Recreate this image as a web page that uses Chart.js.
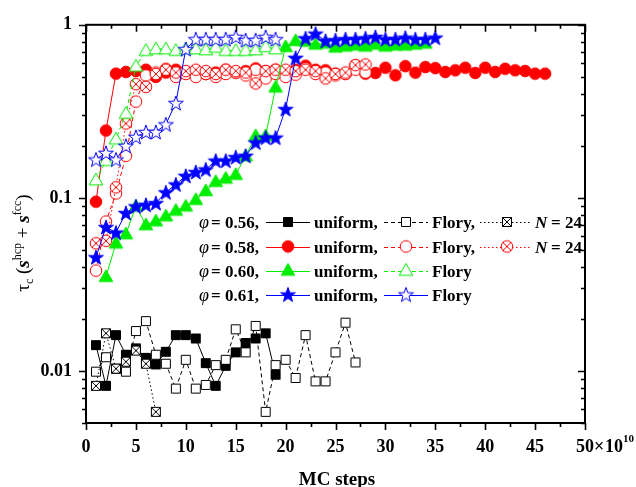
<!DOCTYPE html>
<html>
<head>
<meta charset="utf-8">
<script src="https://cdn.jsdelivr.net/npm/chart.js@4.4.1/dist/chart.umd.min.js"></script>
<style>
html,body{margin:0;padding:0;background:#fff;}
#wrap{width:636px;height:487px;position:relative;}
</style>
</head>
<body>
<div id="wrap"><canvas id="c" width="636" height="487"></canvas></div>
<script>
// ---------- data ----------
const steps = [1,2,3,4,5,6,7,8,9,10,11,12,13,14,15,16,17,18,19,20,21,22,23,24,25,26,27,28,29,30,31,32,33,34,35,36,37,38,39,40,41,42,43,44,45,46];

// phi = 0.56
const u56 = [0.0141,0.0082,0.0161,0.0124,0.0135,0.0119,0.0109,0.0129,0.0161,0.0161,0.0154,0.0111,0.0082,0.0107,0.0128,0.0145,0.0154,0.0165,0.0095];
const f56 = [0.0099,0.0120,0.0103,0.0099,0.0170,0.0194,0.0124,0.0110,0.0079,0.0116,0.0079,0.0083,0.0108,0.0116,0.0174,0.0128,0.0182,0.0058,0.0108,0.0116,0.0091,0.0161,0.0087,0.0087,0.0128,0.0190,0.0112];
const n56 = [0.0082,0.0165,0.0103,0.0113,0.0131,0.0110,0.0058];

// phi = 0.58
const u58 = [0.095,0.245,0.522,0.534,0.54,0.55,0.50,0.53,0.55,0.53,0.54,0.52,0.53,0.55,0.53,0.54,0.56,0.54,0.55,0.53,0.55,0.58,0.55,0.546,0.522,0.522,0.582,0.522,0.527,0.565,0.511,0.577,0.529,0.570,0.562,0.534,0.546,0.565,0.527,0.565,0.534,0.557,0.546,0.541,0.522,0.522];
const f58 = [0.038,0.073,0.106,0.175,0.36,0.51,0.53,0.557,0.50,0.52,0.50,0.52,0.50,0.52,0.53,0.51,0.55,0.49,0.52,0.50,0.515,0.56,0.52,0.53,0.51,0.52,0.55,0.53];
const n58 = [0.0546,0.0565,0.115,0.269,0.454,0.438,0.52,0.55,0.53,0.54,0.55,0.54,0.52,0.55,0.54,0.53,0.458,0.54,0.55,0.55,0.54,0.55,0.54,0.49,0.52,0.53,0.585,0.59];

// phi = 0.60 (uniform starts at step 2)
const u60Steps = steps.slice(1, 34);
const u60 = [0.035,0.0546,0.0617,0.0893,0.0696,0.0733,0.0783,0.0844,0.0893,0.0975,0.1096,0.1238,0.1294,0.136,0.174,0.228,0.228,0.435,0.746,0.808,0.80,0.77,0.78,0.74,0.75,0.76,0.75,0.77,0.75,0.76,0.76,0.77,0.78];
const f60 = [0.1265,0.164,0.218,0.307,0.575,0.709,0.724,0.724,0.709,0.724,0.724,0.715,0.74,0.709,0.709,0.709,0.715,0.746,0.724];

// phi = 0.61
const u61 = [0.0454,0.0678,0.063,0.0818,0.0893,0.0912,0.0933,0.1077,0.1196,0.134,0.141,0.146,0.164,0.164,0.172,0.175,0.209,0.223,0.223,0.326,0.644,0.836,0.889,0.808,0.815,0.826,0.826,0.836,0.851,0.826,0.826,0.843,0.826,0.826,0.843];
const f61 = [0.1667,0.182,0.1667,0.2,0.225,0.24,0.24,0.266,0.353,0.724,0.826,0.826,0.826,0.826,0.851,0.815,0.815,0.851,0.826];

const xTickVals = [0,5,10,15,20,25,30,35,40,45,50];
const xTickLabels = ['0','5','10','15','20','25','30','35','40','45','50'];
const yTickVals = [0.01,0.1,1];
const yTickLabels = ['0.01','0.1','1'];

// ---------- styling helpers ----------
const SERIF = '"Liberation Serif","Times New Roman",serif';
const BLACK='#000000', RED='#ff0000', GREEN='#00ee00', BLUE='#0000ff';

function marker(shape, color, filled, crossed){
  const S=20, c=document.createElement('canvas'); c.width=S; c.height=S;
  const g=c.getContext('2d'); const m=S/2;
  g.lineWidth=1; g.strokeStyle=color; g.fillStyle=filled?color:'#ffffff';
  g.beginPath();
  if(shape==='square'){ g.rect(m-4.5,m-4.5,9,9); }
  else if(shape==='circle'){ g.arc(m,m,5.8,0,Math.PI*2); }
  else if(shape==='triangle'){ g.moveTo(m,m-7); g.lineTo(m+6.8,m+4.8); g.lineTo(m-6.8,m+4.8); g.closePath(); }
  else if(shape==='star'){
    const R=7.8, r=3.1;
    for(let i=0;i<10;i++){ const a=-Math.PI/2+i*Math.PI/5, rr=(i%2===0)?R:r;
      const px=m+rr*Math.cos(a), py=m+rr*Math.sin(a)+0.7; if(i===0) g.moveTo(px,py); else g.lineTo(px,py);} g.closePath();
  }
  g.fill(); g.stroke();
  if(crossed){
    const d = shape==='square'?4.5:4;
    g.beginPath(); g.moveTo(m-d,m-d); g.lineTo(m+d,m+d); g.moveTo(m+d,m-d); g.lineTo(m-d,m+d); g.stroke();
  }
  return c;
}
const M = {
  sqF: marker('square',BLACK,true), sqO: marker('square',BLACK,false), sqX: marker('square',BLACK,false,true),
  ciF: marker('circle',RED,true), ciO: marker('circle',RED,false), ciX: marker('circle',RED,false,true),
  trF: marker('triangle',GREEN,true), trO: marker('triangle',GREEN,false),
  stF: marker('star',BLUE,true), stO: marker('star',BLUE,false)
};
const DASH=[4,3], DOT=[1.5,2.5];

function pts(xs, ys){ return ys.map((v,i)=>({x:xs[i], y:v})); }
function ds(label, xs, ys, color, dash, style){
  return {label, data:pts(xs,ys), borderColor:color, backgroundColor:color, borderWidth:1,
    borderDash:dash, pointStyle:style, pointRadius:5, pointHoverRadius:5, tension:0, fill:false};
}

const datasets = [
  ds('0.61 Flory', steps, f61, BLUE, [], M.stO),
  ds('0.61 uniform', steps, u61, BLUE, [], M.stF),
  ds('0.60 Flory', steps, f60, GREEN, DASH, M.trO),
  ds('0.60 uniform', u60Steps, u60, GREEN, [], M.trF),
  ds('0.58 N24', steps, n58, RED, DOT, M.ciX),
  ds('0.58 Flory', steps, f58, RED, DASH, M.ciO),
  ds('0.58 uniform', steps, u58, RED, [], M.ciF),
  ds('0.56 N24', steps, n56, BLACK, DOT, M.sqX),
  ds('0.56 Flory', steps, f56, BLACK, DASH, M.sqO),
  ds('0.56 uniform', steps, u56, BLACK, [], M.sqF)
];

// ---------- decoration plugin ----------
const deco = {
  id:'deco',
  afterDraw(chart){
    const ctx=chart.ctx, a=chart.chartArea, xs=chart.scales.x, ys=chart.scales.y;
    ctx.save();
    ctx.strokeStyle='#000'; ctx.fillStyle='#000';
    ctx.lineWidth=2; ctx.setLineDash([]);
    ctx.strokeRect(a.left, a.top, a.right-a.left, a.bottom-a.top);
    ctx.lineWidth=1.6;
    for(let i=0;i<=20;i++){
      const v=i*2.5, px=Math.round(xs.getPixelForValue(v))+0.5, len=(i%2===0)?7:4;
      ctx.beginPath();
      ctx.moveTo(px,a.bottom); ctx.lineTo(px,a.bottom+len);
      ctx.moveTo(px,a.top); ctx.lineTo(px,a.top+len);
      ctx.stroke();
    }
    for(let e=-3;e<=0;e++){
      for(let k=1;k<=9;k++){
        const v=k*Math.pow(10,e);
        if(v<ys.min*0.999 || v>ys.max*1.001) continue;
        const py=Math.round(ys.getPixelForValue(v))+0.5, len=(k===1)?7:4;
        ctx.beginPath();
        ctx.moveTo(a.left-len,py); ctx.lineTo(a.left,py);
        ctx.moveTo(a.right-len,py); ctx.lineTo(a.right,py);
        ctx.stroke();
      }
    }
    // x multiplier
    ctx.textBaseline='alphabetic'; ctx.textAlign='left';
    ctx.font='bold 18px '+SERIF;
    ctx.fillText('\u00d7', a.right+9, 452);
    ctx.fillText('10', a.right+20, 452);
    ctx.font='bold 11px '+SERIF;
    ctx.fillText('10', a.right+38, 442);
    // x title
    ctx.font='bold 19px '+SERIF; ctx.textAlign='center';
    ctx.fillText('MC steps', 337, 485);
    // y title
    ctx.save();
    ctx.translate(29, 243); ctx.rotate(-Math.PI/2);
    const segs=[
      {t:'\u03c4', f:'19px '+SERIF, dy:0},
      {t:'c', f:'12px '+SERIF, dy:4},
      {t:' (', f:'19px '+SERIF, dy:0},
      {t:'s', f:'bold italic 19px '+SERIF, dy:0},
      {t:'hcp', f:'12px '+SERIF, dy:-8},
      {t:' + ', f:'19px '+SERIF, dy:0},
      {t:'s', f:'bold italic 19px '+SERIF, dy:0},
      {t:'fcc', f:'12px '+SERIF, dy:-8},
      {t:')', f:'19px '+SERIF, dy:0}
    ];
    let w=0; segs.forEach(s=>{ctx.font=s.f; s.w=ctx.measureText(s.t).width; w+=s.w;});
    let x=-w/2; ctx.textAlign='left';
    segs.forEach(s=>{ctx.font=s.f; ctx.fillText(s.t, x, s.dy); x+=s.w;});
    ctx.restore();
    // legend
    const rows=[
      {y:222, phi:'0.56', col:BLACK, u:M.sqF, f:M.sqO, fdash:DASH, n:M.sqX},
      {y:246.5, phi:'0.58', col:RED, u:M.ciF, f:M.ciO, fdash:DASH, n:M.ciX},
      {y:270.5, phi:'0.60', col:GREEN, u:M.trF, f:M.trO, fdash:DASH, n:null},
      {y:294.5, phi:'0.61', col:BLUE, u:M.stF, f:M.stO, fdash:[], n:null}
    ];
    rows.forEach(r=>{
      const base=r.y+6;
      ctx.fillStyle='#000'; ctx.textAlign='left';
      ctx.font='italic 18px '+SERIF; ctx.fillText('\u03c6', 199, base);
      ctx.font='bold 17px '+SERIF; ctx.fillText('= '+r.phi+',', 211, base);
      ctx.fillText('uniform,', 314, base);
      ctx.fillText(r.n ? 'Flory,' : 'Flory', 432, base);
      ctx.strokeStyle=r.col; ctx.lineWidth=1;
      const ly=Math.round(r.y)+0.5;
      ctx.setLineDash([]); ctx.beginPath(); ctx.moveTo(266,ly); ctx.lineTo(310,ly); ctx.stroke();
      ctx.setLineDash(r.fdash); ctx.beginPath(); ctx.moveTo(384,ly); ctx.lineTo(428,ly); ctx.stroke();
      ctx.setLineDash([]);
      ctx.drawImage(r.u, 288-10, r.y-10);
      ctx.drawImage(r.f, 406-10, r.y-10);
      if(r.n){
        ctx.setLineDash(DOT); ctx.beginPath(); ctx.moveTo(480,ly); ctx.lineTo(531,ly); ctx.stroke();
        ctx.setLineDash([]);
        ctx.drawImage(r.n, 507-10, r.y-10);
        ctx.fillStyle='#000';
        ctx.font='italic bold 17px '+SERIF; ctx.fillText('N', 535, base);
        ctx.font='bold 17px '+SERIF; ctx.fillText('= 24', 551, base);
      }
    });
    ctx.restore();
  }
};

new Chart(document.getElementById('c'), {
  type:'line',
  data:{datasets},
  options:{
    responsive:false, animation:false, events:[],
    layout:{padding:{top:18, right:51, left:0, bottom:0}},
    plugins:{legend:{display:false}, tooltip:{enabled:false}},
    scales:{
      x:{type:'linear', min:0, max:50,
        grid:{display:false, drawTicks:false}, border:{display:false},
        afterBuildTicks:(s)=>{ s.ticks = xTickVals.map(v=>({value:v})); },
        afterFit:(s)=>{ s.height=64; },
        ticks:{autoSkip:false, maxRotation:0, padding:14, color:'#000',
          font:{family:SERIF, size:18, weight:'bold'},
          callback:(v,i)=>xTickLabels[i]}
      },
      y:{type:'logarithmic', min:0.005, max:1,
        grid:{display:false, drawTicks:false}, border:{display:false},
        afterBuildTicks:(s)=>{ s.ticks = yTickVals.map(v=>({value:v})); },
        afterFit:(s)=>{ s.width=86; },
        ticks:{autoSkip:false, padding:14, color:'#000',
          font:{family:SERIF, size:18, weight:'bold'},
          callback:(v,i)=>yTickLabels[i]}
      }
    }
  },
  plugins:[deco]
});
</script>
</body>
</html>
